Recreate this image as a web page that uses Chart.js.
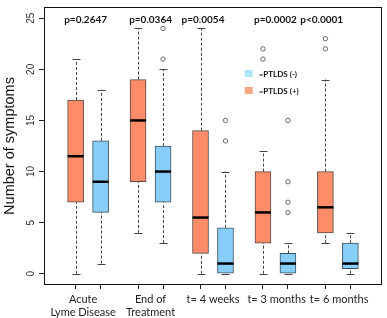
<!DOCTYPE html>
<html>
<head>
<meta charset="utf-8">
<script src="https://cdn.jsdelivr.net/npm/chart.js@4.4.1/dist/chart.umd.min.js"></script>
<style>
  html, body { margin: 0; padding: 0; background: #fff; }
  canvas { display: block; }
</style>
</head>
<body>
<canvas id="chart" width="387" height="318"></canvas>
<script>
// Time points, each with a PTLDS(+) box and a PTLDS(-) box
const categories = ['Acute\nLyme Disease', 'End of\nTreatment', 't= 4 weeks', 't= 3 months', 't= 6 months'];
const pValues = ['p=0.2647', 'p=0.0364', 'p=0.0054', 'p=0.0002', 'p<0.0001'];
const yTicks = [0, 5, 10, 15, 20, 25];

// x positions of the boxes (axis units)
const plusPos = [1, 3.5, 6, 8.5, 11];
const minusPos = [2, 4.5, 7, 9.5, 12];

// PTLDS (+)
const plusLow = [0, 4, 0, 0, 3];
const plusQ1 = [7, 9, 2, 3, 4];
const plusMedian = [11.5, 15, 5.5, 6, 6.5];
const plusQ3 = [17, 19, 14, 10, 10];
const plusHigh = [21, 24, 24, 12, 19];
const plusOutliers = [[], [], [], [21, 22], [22, 23]];

// PTLDS (-)
const minusLow = [1, 3, 0, 0, 0];
const minusQ1 = [6, 7, 0, 0, 0.5];
const minusMedian = [9, 10, 1, 1, 1];
const minusQ3 = [13, 12.5, 4.5, 2, 3];
const minusHigh = [18, 20, 10, 3, 4];
const minusOutliers = [[], [21, 24], [13, 15], [6, 7, 9, 15], []];

// text placement (axis units)
const labelPos = [1.3, 4, 6.5, 9.05, 11.55];
const pValuePos = [1.4, 4, 6.1, 9, 10.85];

const ORANGE = '#ff8c69';
const BLUE = '#87cefa';
const BOX_WIDTH = 16;

const series = [
  { pos: plusPos, low: plusLow, q1: plusQ1, med: plusMedian, q3: plusQ3, high: plusHigh },
  { pos: minusPos, low: minusLow, q1: minusQ1, med: minusMedian, q3: minusQ3, high: minusHigh },
];

const outlierPoints = [];
plusOutliers.forEach((list, i) => list.forEach(v => outlierPoints.push({ x: plusPos[i], y: v })));
minusOutliers.forEach((list, i) => list.forEach(v => outlierPoints.push({ x: minusPos[i], y: v })));

const boxPlotExtras = {
  id: 'boxPlotExtras',
  beforeDatasetsDraw(chart) {
    const { ctx, scales: { x, y } } = chart;
    ctx.save();
    ctx.strokeStyle = '#444';
    ctx.lineWidth = 1;
    for (const s of series) {
      s.pos.forEach((p, i) => {
        const px = Math.round(x.getPixelForValue(p)) + 0.5;
        const cap = BOX_WIDTH / 4;
        ctx.setLineDash([3, 2]);
        ctx.beginPath();
        ctx.moveTo(px, y.getPixelForValue(s.low[i]));
        ctx.lineTo(px, y.getPixelForValue(s.q1[i]));
        ctx.moveTo(px, y.getPixelForValue(s.q3[i]));
        ctx.lineTo(px, y.getPixelForValue(s.high[i]));
        ctx.stroke();
        ctx.setLineDash([]);
        ctx.beginPath();
        for (const v of [s.low[i], s.high[i]]) {
          const py = Math.round(y.getPixelForValue(v)) + 0.5;
          ctx.moveTo(px - cap, py);
          ctx.lineTo(px + cap, py);
        }
        ctx.stroke();
      });
    }
    ctx.restore();
  },
  afterDatasetsDraw(chart) {
    const { ctx, chartArea: a, scales: { x, y } } = chart;
    ctx.save();
    // medians
    ctx.strokeStyle = '#000';
    ctx.lineWidth = 2.5;
    for (const s of series) {
      s.pos.forEach((p, i) => {
        const px = x.getPixelForValue(p);
        const py = y.getPixelForValue(s.med[i]);
        ctx.beginPath();
        ctx.moveTo(px - BOX_WIDTH / 2, py);
        ctx.lineTo(px + BOX_WIDTH / 2, py);
        ctx.stroke();
      });
    }
    // plot frame
    ctx.lineWidth = 1;
    ctx.strokeStyle = '#111';
    ctx.strokeRect(Math.round(a.left) + 0.5, Math.round(a.top) - 0.5,
      Math.round(a.right - a.left) - 1, Math.round(a.bottom - a.top) + 1);
    // p values
    ctx.fillStyle = '#111';
    ctx.font = 'bold 10px Lato';
    ctx.textAlign = 'center';
    ctx.textBaseline = 'middle';
    pValues.forEach((t, i) => ctx.fillText(t, x.getPixelForValue(pValuePos[i]), a.top + 12));
    // legend
    ctx.font = 'bold 8px Lato';
    ctx.textAlign = 'left';
    const lx = x.getPixelForValue(7.77);
    [['#aee6f5', '=PTLDS (-)', 70], ['#f8a683', '=PTLDS (+)', 87]].forEach(([c, t, ty]) => {
      ctx.fillStyle = c;
      ctx.fillRect(lx, ty, 8, 7);
      ctx.fillStyle = '#111';
      ctx.fillText(t, lx + 14, ty + 4);
    });
    ctx.restore();
  }
};

new Chart(document.getElementById('chart'), {
  type: 'bar',
  data: {
    datasets: [
      {
        label: 'PTLDS (+)',
        data: plusPos.map((p, i) => ({ x: p, y: [plusQ1[i], plusQ3[i]] })),
        backgroundColor: ORANGE,
        borderColor: '#5a4a44',
        borderWidth: 1,
        borderSkipped: false,
        barThickness: BOX_WIDTH,
        grouped: false,
        order: 2,
      },
      {
        label: 'PTLDS (-)',
        data: minusPos.map((p, i) => ({ x: p, y: [minusQ1[i], minusQ3[i]] })),
        backgroundColor: BLUE,
        borderColor: '#3f4f5a',
        borderWidth: 1,
        borderSkipped: false,
        barThickness: BOX_WIDTH,
        grouped: false,
        order: 2,
      },
      {
        type: 'scatter',
        label: 'outliers',
        data: outlierPoints,
        pointRadius: 2.2,
        pointBackgroundColor: '#fff',
        pointBorderColor: '#666',
        pointBorderWidth: 1,
        order: 1,
      },
    ],
  },
  options: {
    responsive: false,
    animation: false,
    layout: { padding: { top: 1, right: 1, left: 0, bottom: 0 } },
    plugins: { legend: { display: false }, tooltip: { enabled: false } },
    scales: {
      x: {
        type: 'linear',
        offset: false,
        min: -0.266,
        max: 13.266,
        weight: 0,
        afterBuildTicks: s => { s.ticks = plusPos.concat(minusPos).sort((m, n) => m - n).map(v => ({ value: v })); },
        afterFit: s => { s.height = 6; },
        grid: { offset: false, drawOnChartArea: false, drawTicks: true, tickLength: 5, color: '#222' },
        border: { display: false },
        ticks: { display: false, autoSkip: false },
      },
      x2: {
        type: 'linear',
        position: 'bottom',
        offset: false,
        min: -0.266,
        max: 13.266,
        weight: 1,
        afterBuildTicks: s => { s.ticks = labelPos.map(v => ({ value: v })); },
        afterFit: s => { s.height = 28; },
        grid: { display: false, drawTicks: false },
        border: { display: false },
        ticks: {
          autoSkip: false,
          maxRotation: 0,
          padding: 3,
          color: '#222',
          font: { family: 'Lato', size: 11, lineHeight: 1.2 },
          callback: (v, i) => categories[i].split('\n'),
        },
      },
      y: {
        min: -1,
        max: 26,
        afterBuildTicks: s => { s.ticks = yTicks.map(v => ({ value: v })); },
        afterFit: s => { s.width = 44; },
        grid: { drawOnChartArea: false, drawTicks: true, tickLength: 5, color: '#222' },
        border: { display: false },
        ticks: {
          minRotation: 90,
          maxRotation: 90,
          crossAlign: 'center',
          padding: 2,
          color: '#333',
          font: { family: 'Liberation Sans', size: 10 },
        },
        title: {
          display: true,
          text: 'Number of symptoms',
          color: '#111',
          padding: { top: 1, bottom: 0 },
          font: { family: 'Liberation Sans', size: 14.5 },
        },
      },
    },
  },
  plugins: [boxPlotExtras],
});
</script>
</body>
</html>
